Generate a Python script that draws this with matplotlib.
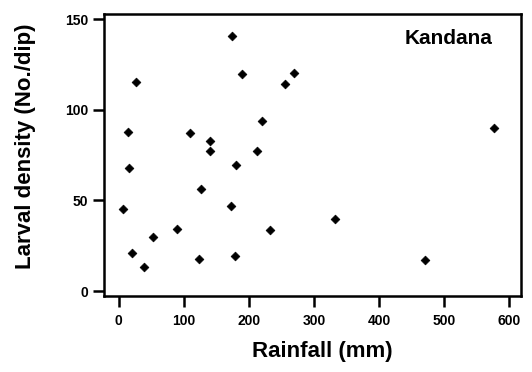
import matplotlib.pyplot as plt

plt.rcParams['font.family'] = ['Liberation Sans', 'DejaVu Sans']
plt.rcParams['font.weight'] = 'bold'

# rainfall (mm) vs larval density (No./dip), Kandana
rainfall = [175, 27, 189, 269, 255, 220, 577, 15, 110, 141, 141, 213, 180,
            16, 126, 173, 7, 332, 89, 232, 53, 21, 179, 123, 471, 39]
density = [140.5, 115.5, 120, 120.5, 114.5, 94, 90, 87.5, 87, 83, 77, 77, 69.5,
           68, 56.5, 47, 45, 39.5, 34.5, 33.5, 30, 21, 19.5, 17.5, 17, 13.5]

xticks = [0, 100, 200, 300, 400, 500, 600]
yticks = [0, 50, 100, 150]

fig = plt.figure(figsize=(5.32, 3.72), dpi=100)
ax = fig.add_axes([0.196, 0.204, 0.783, 0.758])

ax.scatter(rainfall, density, marker='D', s=20, color='black', edgecolors='black',
           linewidths=0.5, zorder=3)

ax.set_xlim(-22, 618)
ax.set_ylim(-2.8, 152.8)
ax.set_xticks(xticks)
ax.set_yticks(yticks)

for sp in ax.spines.values():
    sp.set_linewidth(1.8)

ax.tick_params(axis='both', width=1.8, length=8, labelsize=10)
ax.tick_params(axis='x', pad=5)
ax.tick_params(axis='y', pad=3.5)
for lab in ax.get_xticklabels() + ax.get_yticklabels():
    lab.set_fontweight('bold')

ax.set_xlabel('Rainfall (mm)', fontsize=16, fontweight='bold')
ax.set_ylabel('Larval density (No./dip)', fontsize=16, fontweight='bold')
ax.xaxis.set_label_coords(0.523, -0.16)
ax.yaxis.set_label_coords(-0.165, 0.53)

ax.text(0.933, 0.915, 'Kandana', transform=ax.transAxes, ha='right', va='center',
        fontsize=15, fontweight='bold')

fig.savefig('out.png', dpi=100)
